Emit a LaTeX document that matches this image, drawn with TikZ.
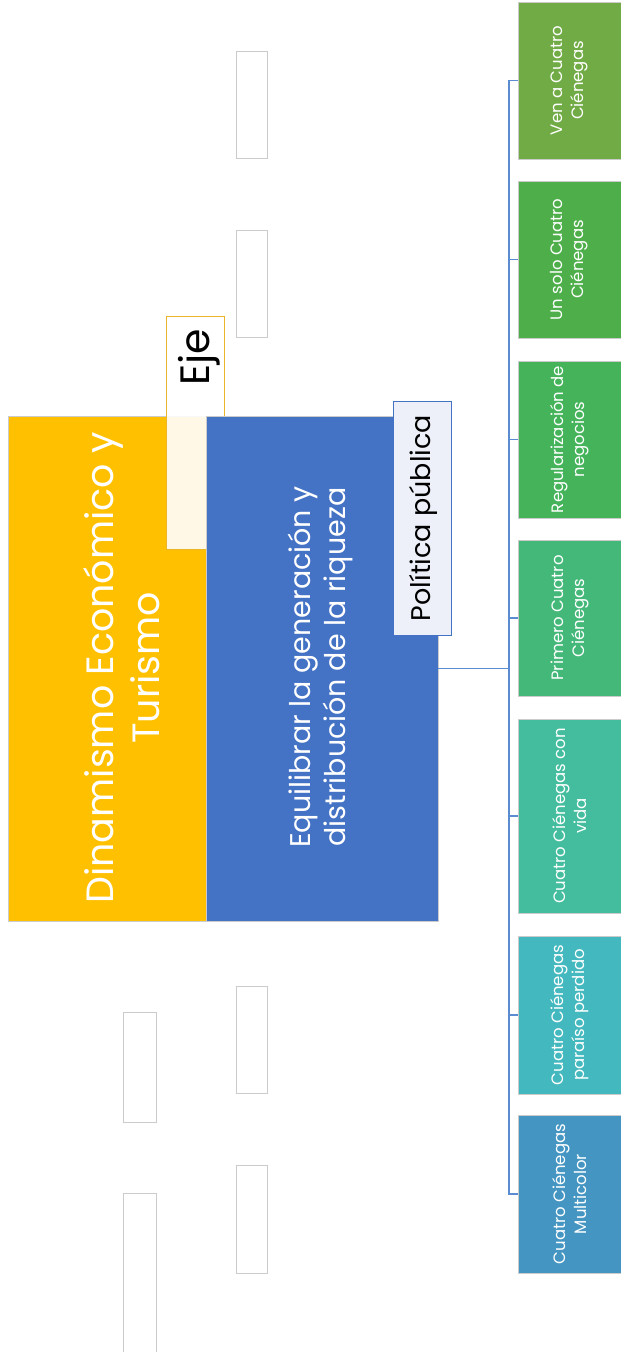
\documentclass[tikz,border=0pt]{standalone}
\usepackage{fontspec}
\setmainfont{Poppins}
\definecolor{yellowc}{HTML}{FFC000}
\definecolor{bluec}{HTML}{4472C4}
\definecolor{goldc}{HTML}{EBB52A}
\definecolor{boxgray}{HTML}{CBCBCB}
\definecolor{polfill}{HTML}{EDF0F9}
\definecolor{connblue}{HTML}{5B8BD0}
\definecolor{gA}{HTML}{71AB46}
\definecolor{gB}{HTML}{4EAF4A}
\definecolor{gC}{HTML}{44B35A}
\definecolor{gD}{HTML}{44B879}
\definecolor{gE}{HTML}{43BD9E}
\definecolor{gF}{HTML}{43B8BE}
\definecolor{gG}{HTML}{4495C2}
\begin{document}
\begin{tikzpicture}[x=1pt,y=-1pt,
  blank/.style={draw=boxgray, fill=white, line width=0.8pt, inner sep=0pt},
  bigbox/.style={rotate=90, draw=boxgray, line width=0.8pt, inner sep=0pt},
  leaf/.style={rotate=90, draw=boxgray, line width=0.8pt, minimum height=103pt,
    inner sep=0pt, align=center, text=white,
    font=\fontsize{16.5}{21}\selectfont},
  rottext/.style={rotate=90, align=center, inner sep=0pt},
  conn/.style={draw=connblue, line width=1.8pt}]
\useasboundingbox (0,0) rectangle (621,1352);
\fill[white] (0,0) rectangle (621,1352);

% empty boxes
\node[blank, minimum width=31pt, minimum height=107pt] (b1) at (251.5,104.5) {};
\node[blank, minimum width=31pt, minimum height=107pt] (b2) at (251.5,283.5) {};
\node[blank, minimum width=31pt, minimum height=107pt] (b3) at (251.5,1039.5) {};
\node[blank, minimum width=31pt, minimum height=108pt] (b4) at (251.5,1219) {};
\node[blank, minimum width=33pt, minimum height=110pt] (b5) at (139.5,1067) {};
\node[blank, minimum width=33pt, minimum height=164pt] (b6) at (139.5,1275) {};

% main boxes
\node[bigbox, fill=yellowc, minimum width=505pt, minimum height=198.5pt] (yel) at (107.25,668.5) {};
\node[bigbox, draw=goldc, fill=white, fill opacity=0.9, minimum width=233pt, minimum height=58pt] (ejebox) at (195,432.5) {};
\node[bigbox, fill=bluec, minimum width=505pt, minimum height=231.5pt] (blu) at (322.25,668.5) {};
\node[bigbox, draw=bluec, fill=polfill, minimum width=234pt, minimum height=58pt] (pol) at (422,518) {};

% texts
\node[rottext, text=white, font=\fontsize{38}{46}\selectfont] (yeltxt) at (122,668) {Dinamismo Económico y\\Turismo};
\node[rottext, text=white, font=\fontsize{28.5}{35}\selectfont] (blutxt) at (320,667) {Equilibrar la generación y\\distribución de la riqueza};
\node[rottext, text=black, font=\fontsize{27}{30}\selectfont] (poltxt) at (423,518) {Política pública};
\node[rottext, text=black, font=\fontsize{41}{46}\selectfont] (ejetxt) at (199,357) {Eje};

% leaves
\node[leaf, fill=gA, minimum width=157pt] (c1) at (569.5,80.5) {Ven a Cuatro\\Ciénegas};
\node[leaf, fill=gB, minimum width=157pt] (c2) at (569.5,259.5) {Un solo Cuatro\\Ciénegas};
\node[leaf, fill=gC, minimum width=157pt] (c3) at (569.5,439.5) {Regularización de\\negocios};
\node[leaf, fill=gD, minimum width=156pt] (c4) at (569.5,618) {Primero Cuatro\\Ciénegas};
\node[leaf, fill=gE, minimum width=194pt] (c5) at (569.5,816) {Cuatro Ciénegas con\\vida};
\node[leaf, fill=gF, minimum width=158pt] (c6) at (569.5,1015) {Cuatro Ciénegas\\paraíso perdido};
\node[leaf, fill=gG, minimum width=158pt] (c7) at (569.5,1194) {Cuatro Ciénegas\\Multicolor};

% connectors
\coordinate (bus) at (509,669);
\foreach \c in {c1,c2,c3,c4,c5,c6,c7}
  \draw[conn] (blu.south) -- (blu.south -| bus) |- (\c.north);
\end{tikzpicture}
\end{document}
